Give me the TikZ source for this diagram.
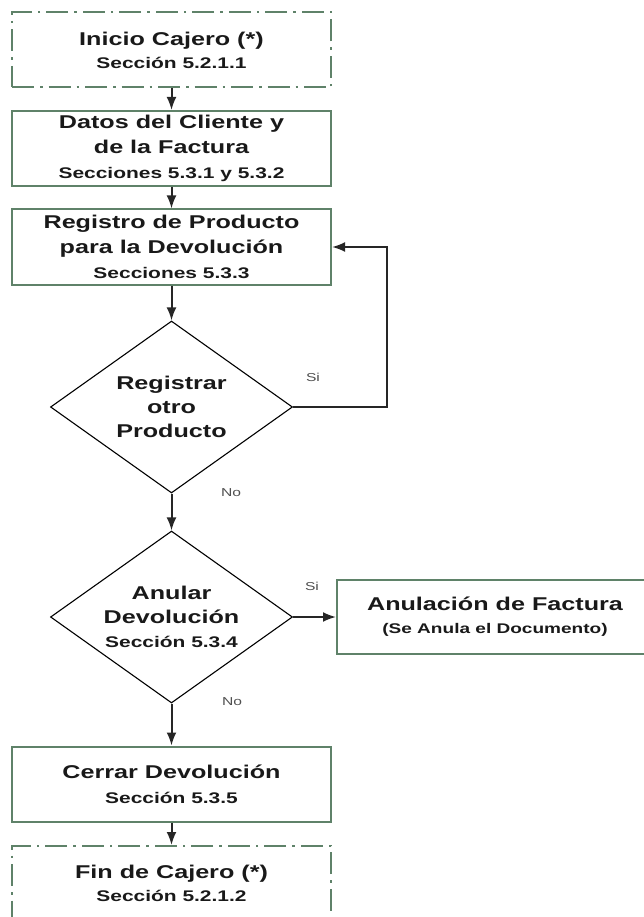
\documentclass[tikz,border=0pt]{standalone}
\usepackage{fontspec}
\setmainfont[FakeStretch=1.36]{Liberation Sans}
\usetikzlibrary{shapes.geometric,arrows.meta}
\definecolor{boxgreen}{RGB}{95,130,105}
\definecolor{txt}{RGB}{25,25,25}
\definecolor{lbl}{RGB}{80,80,80}
\newcommand{\titlef}{\fontsize{18.5}{25}\selectfont\bfseries}
\newcommand{\subf}{\fontsize{15.4}{24}\selectfont\bfseries}
\newcommand{\smallsubf}{\fontsize{14}{20}\selectfont\bfseries}
\begin{document}
\begin{tikzpicture}[x=1pt,y=-1pt,
  procbox/.style={draw=boxgreen,line width=2pt,minimum width=319pt,minimum height=75pt,inner sep=0pt,align=center,text=txt,font=\titlef},
  termbox/.style={procbox,dash pattern=on 22pt off 6pt on 2.5pt off 6pt,font=\fontsize{18.5}{23}\selectfont\bfseries},
  decision/.style={diamond,draw=black,line width=1.1pt,minimum width=242pt,minimum height=172pt,inner sep=0pt,aspect=1.41,align=center,text=txt,font=\fontsize{18.5}{24}\selectfont\bfseries},
  flow/.style={draw=black!85,line width=2pt,-{Latex[length=13pt,width=10pt]}},
  lab/.style={text=lbl,font=\fontsize{11.5}{12}\selectfont,inner sep=0pt}
]
\clip (0,0) rectangle (644,917);
\node[termbox] (start) at (171.5,50) {Inicio Cajero (*)\\{\subf Sección 5.2.1.1}};
\node[procbox] (datos) at (171.5,148.5) {Datos del Cliente y\\de la Factura\\{\subf Secciones 5.3.1 y 5.3.2}};
\node[procbox] (reg) at (171.5,247) {Registro de Producto\\para la Devolución\\{\subf Secciones 5.3.3}};
\node[decision] (d1) at (171.5,407) {Registrar\\otro\\Producto};
\node[decision] (d2) at (171.5,617) {Anular\\Devolución\\{\subf Sección 5.3.4}};
\node[procbox,minimum width=316pt,minimum height=74pt,font=\fontsize{18.5}{23}\selectfont\bfseries] (anul) at (495,617) {Anulación de Factura\\{\smallsubf (Se Anula el Documento)}};
\node[procbox] (cerrar) at (171.5,784) {Cerrar Devolución\\{\subf Sección 5.3.5}};
\node[termbox,minimum height=74pt] (fin) at (171.5,883) {Fin de Cajero (*)\\{\subf Sección 5.2.1.2}};
\coordinate (loop) at (387,407);
\draw[flow] (start) -- (datos);
\draw[flow] (datos) -- (reg);
\draw[flow] (reg) -- (d1);
\draw[flow] (d1.east) -- (loop) |- (reg.east);
\draw[flow] (d1) -- (d2);
\draw[flow] (d2.east) -- (anul.west);
\draw[flow] (d2) -- (cerrar);
\draw[flow] (cerrar) -- (fin);
\node[lab] (si1) at (313,377) {Si};
\node[lab] (no1) at (231,493) {No};
\node[lab] (si2) at (312,586) {Si};
\node[lab] (no2) at (232,702) {No};
\end{tikzpicture}
\end{document}
